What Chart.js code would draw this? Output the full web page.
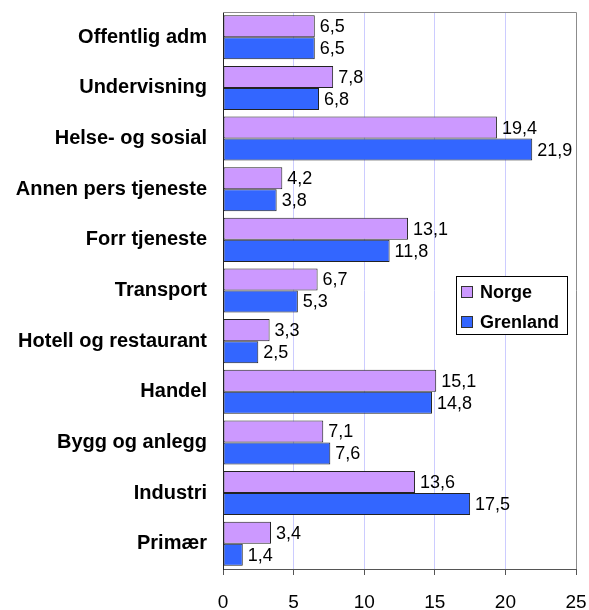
<!DOCTYPE html>
<html>
<head>
<meta charset="utf-8">
<script src="https://cdn.jsdelivr.net/npm/chart.js@4"></script>
<style>
  html, body { margin: 0; padding: 0; background: #fff; }
  #wrap { width: 589px; height: 610px; }
</style>
</head>
<body>
<div id="wrap"><canvas id="barChart" width="589" height="610"></canvas></div>
<script>
const categories = ['Offentlig adm', 'Undervisning', 'Helse- og sosial', 'Annen pers tjeneste', 'Forr tjeneste',
  'Transport', 'Hotell og restaurant', 'Handel', 'Bygg og anlegg', 'Industri', 'Primær'];
const norge = [6.5, 7.8, 19.4, 4.2, 13.1, 6.7, 3.3, 15.1, 7.1, 13.6, 3.4];
const grenland = [6.5, 6.8, 21.9, 3.8, 11.8, 5.3, 2.5, 14.8, 7.6, 17.5, 1.4];
const xTicks = [0, 5, 10, 15, 20, 25];

const fontFam = 'Arial, "Liberation Sans", sans-serif';
const ctx = document.getElementById('barChart').getContext('2d');

// value labels to the right of each bar, with comma decimals
const valueLabels = {
  id: 'valueLabels',
  afterDatasetsDraw(chart) {
    const c = chart.ctx;
    c.save();
    c.font = '18px ' + fontFam;
    c.fillStyle = '#000';
    c.textAlign = 'left';
    c.textBaseline = 'middle';
    chart.data.datasets.forEach((ds, i) => {
      chart.getDatasetMeta(i).data.forEach((bar, j) => {
        c.fillText(ds.data[j].toFixed(1).replace('.', ','), bar.x + 5, bar.y + 1);
      });
    });
    c.restore();
  }
};

// plot frame + legend box inside the plot
const frameAndLegend = {
  id: 'frameAndLegend',
  afterDraw(chart) {
    const c = chart.ctx;
    const a = chart.chartArea;
    c.save();
    c.strokeStyle = '#8c8c8c';
    c.lineWidth = 1;
    c.beginPath();
    c.moveTo(a.left, a.top + 0.5);
    c.lineTo(a.right + 0.5, a.top + 0.5);
    c.lineTo(a.right + 0.5, a.bottom);
    c.stroke();

    // legend
    const lx = 456, ly = 276, lw = 111, lh = 58;
    c.fillStyle = '#fff';
    c.fillRect(lx, ly, lw, lh);
    c.strokeStyle = '#000';
    c.strokeRect(lx + 0.5, ly + 0.5, lw, lh);
    c.font = 'bold 18px ' + fontFam;
    c.textBaseline = 'middle';
    chart.data.datasets.forEach((ds, i) => {
      const y = ly + 16 + i * 30;
      c.fillStyle = ds.backgroundColor;
      c.fillRect(lx + 5, y - 6, 12, 12);
      c.strokeStyle = '#333';
      c.strokeRect(lx + 5.5, y - 5.5, 11, 11);
      c.fillStyle = '#000';
      c.fillText(ds.label, lx + 24, y + 1);
    });
    c.restore();
  }
};

const myChart = new Chart(ctx, {
  type: 'bar',
  data: {
    labels: categories,
    datasets: [{
      label: 'Norge',
      data: norge,
      backgroundColor: '#cc99ff',
      borderColor: '#222',
      borderWidth: 1,
      borderSkipped: false,
      categoryPercentage: 0.87,
      barPercentage: 1.0
    }, {
      label: 'Grenland',
      data: grenland,
      backgroundColor: '#3366ff',
      borderColor: '#222',
      borderWidth: 1,
      borderSkipped: false,
      categoryPercentage: 0.87,
      barPercentage: 1.0
    }]
  },
  options: {
    indexAxis: 'y',
    responsive: false,
    animation: false,
    layout: { padding: { top: 12, right: 13, left: 0, bottom: 0 } },
    plugins: {
      legend: { display: false },
      tooltip: { enabled: false }
    },
    scales: {
      x: {
        min: 0,
        max: 25,
        afterBuildTicks: (scale) => { scale.ticks = xTicks.map(v => ({ value: v })); },
        afterFit: (scale) => { scale.height = 41; scale.paddingLeft = 0; scale.paddingRight = 0; },
        grid: {
          color: (c) => (c.tick && c.tick.value > 0 && c.tick.value < 25) ? '#ccccff' : 'rgba(0,0,0,0)',
          tickColor: '#555',
          tickLength: 6,
          drawTicks: true
        },
        border: { color: '#555', width: 1 },
        ticks: {
          color: '#000',
          padding: 16,
          font: { family: fontFam, size: 19 }
        }
      },
      y: {
        afterFit: (scale) => { scale.width = 223; scale.paddingTop = 0; scale.paddingBottom = 0; },
        grid: { display: false, drawTicks: false },
        border: { color: '#222', width: 1 },
        ticks: {
          color: '#000',
          padding: 16,
          font: { family: fontFam, size: 20, weight: 'bold' }
        }
      }
    }
  },
  plugins: [valueLabels, frameAndLegend]
});
</script>
</body>
</html>
